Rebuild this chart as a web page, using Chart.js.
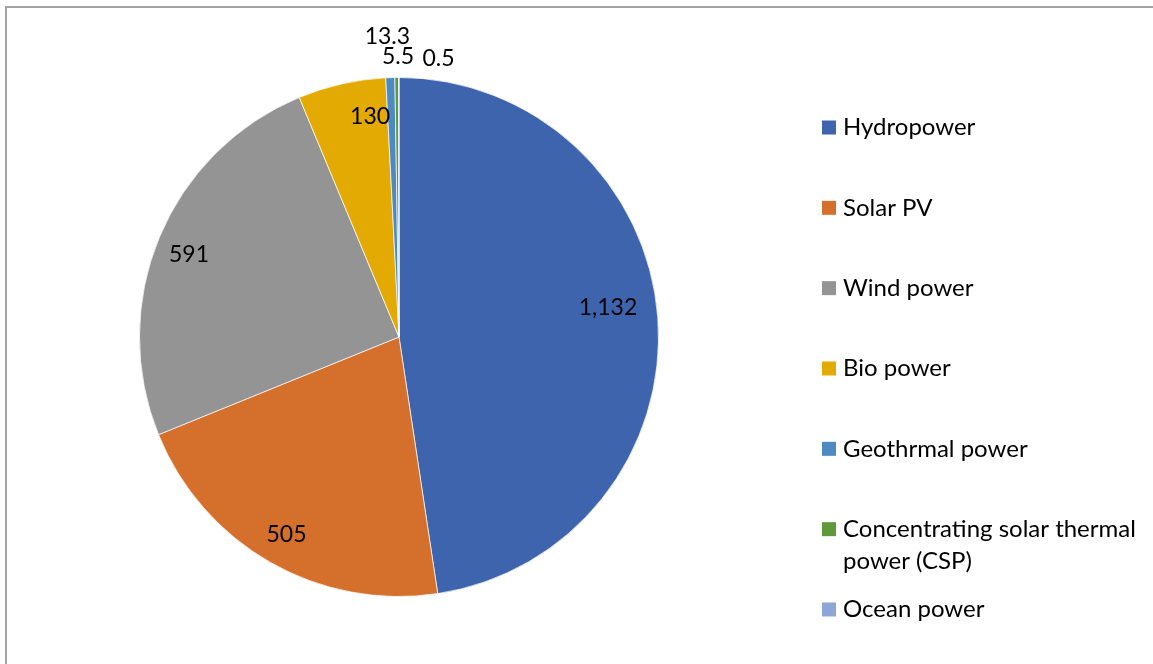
<!DOCTYPE html>
<html>
<head>
<meta charset="utf-8">
<title>Renewable power capacity</title>
<script src="https://cdn.jsdelivr.net/npm/chart.js@4"></script>
<style>
  html, body { margin: 0; padding: 0; background: #fff; }
  #wrap { position: relative; width: 1153px; height: 664px; overflow: hidden; }
  #frame {
    position: absolute; left: 5px; top: 6px; right: -10px; bottom: -10px;
    border-left: 2px solid #a3a3a3; border-top: 2px solid #a3a3a3;
  }
  #myChart { position: absolute; left: 0; top: 0; }
</style>
</head>
<body>
<div id="wrap">
  <div id="frame"></div>
  <canvas id="myChart" width="1153" height="664"></canvas>
</div>
<script>
var sources = ['Hydropower', 'Solar PV', 'Wind power', 'Bio power',
               'Geothrmal power', 'Concentrating solar thermal power (CSP)', 'Ocean power'];
var capacity = [1132, 505, 591, 130, 13.3, 5.5, 0.5];
var colours = ['#3f64ae', '#d4702c', '#949494', '#e2aa03', '#4d8ac1', '#5e9a3b', '#8ea6d6'];

var FONT = 'Lato, "Noto Sans", sans-serif';

function fmt(v) {
  return v.toLocaleString('en-US', { maximumFractionDigits: 1 });
}

// value labels, placed along each slice's bisector; [radius factor, angle shift in degrees]
var sliceLabels = {
  id: 'sliceLabels',
  afterDatasetsDraw: function (chart, args, opts) {
    var ctx = chart.ctx;
    var meta = chart.getDatasetMeta(0);
    var values = chart.data.datasets[0].data;
    ctx.save();
    ctx.font = opts.size + 'px ' + FONT;
    ctx.fillStyle = opts.color;
    ctx.textAlign = 'center';
    ctx.textBaseline = 'middle';
    meta.data.forEach(function (arc, i) {
      var p = arc.getProps(['x', 'y', 'startAngle', 'endAngle', 'outerRadius'], true);
      var place = opts.place[i] || [0.8, 0];
      var a = (p.startAngle + p.endAngle) / 2 + place[1] * Math.PI / 180;
      var r = p.outerRadius * place[0];
      ctx.fillText(fmt(values[i]), p.x + Math.cos(a) * r, p.y + Math.sin(a) * r);
    });
    ctx.restore();
  }
};

// legend on the right, fixed row pitch, long names wrap under themselves
var sideLegend = {
  id: 'sideLegend',
  afterDraw: function (chart, args, opts) {
    var ctx = chart.ctx;
    var colors = chart.data.datasets[0].backgroundColor;
    ctx.save();
    ctx.font = opts.size + 'px ' + FONT;
    ctx.textBaseline = 'middle';
    ctx.textAlign = 'left';
    chart.data.labels.forEach(function (name, i) {
      var cy = opts.top + i * opts.step;
      ctx.fillStyle = colors[i];
      ctx.fillRect(opts.left, cy - opts.box / 2, opts.box, opts.box);
      // word wrap
      var words = name.split(' '), lines = [], line = '';
      words.forEach(function (w) {
        var test = line ? line + ' ' + w : w;
        if (line && ctx.measureText(test).width > opts.maxWidth) {
          lines.push(line);
          line = w;
        } else {
          line = test;
        }
      });
      lines.push(line);
      ctx.fillStyle = opts.color;
      lines.forEach(function (l, k) {
        ctx.fillText(l, opts.left + opts.box + opts.gap, cy + k * opts.lineHeight);
      });
    });
    ctx.restore();
  }
};

var ctx = document.getElementById('myChart').getContext('2d');
var myChart = new Chart(ctx, {
  type: 'pie',
  data: {
    labels: sources,
    datasets: [{
      data: capacity,
      backgroundColor: colours,
      borderColor: 'rgba(255,255,255,0.7)',
      borderWidth: 1
    }]
  },
  options: {
    responsive: false,
    animation: false,
    layout: {
      padding: { left: 139, right: 494, top: 77, bottom: 67 }
    },
    plugins: {
      legend: { display: false },
      tooltip: { enabled: false },
      sliceLabels: {
        size: 23,
        color: '#000',
        place: [[0.813, -3.6], [0.876, 0], [0.87, -1.1], [0.857, 5.3],
                [1.158, -0.3], [1.081, 0.3], [1.084, 8.1]]
      },
      sideLegend: {
        left: 822, top: 127.5, step: 80.33, box: 14, gap: 7,
        size: 24, lineHeight: 32, maxWidth: 305, color: '#000'
      }
    }
  },
  plugins: [sliceLabels, sideLegend]
});
</script>
</body>
</html>
